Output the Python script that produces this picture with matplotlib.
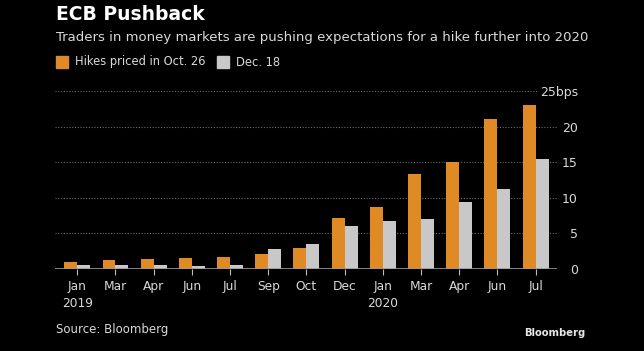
import matplotlib

matplotlib.use('Agg')

import matplotlib.pyplot as plt
import numpy as np

months = ['Jan\n2019', 'Mar', 'Apr', 'Jun', 'Jul', 'Sep', 'Oct', 'Dec',
          'Jan\n2020', 'Mar', 'Apr', 'Jun', 'Jul']
oct26 = [0.95, 1.25, 1.4, 1.55, 1.65, 2.15, 3.0, 7.2, 8.75, 13.4, 15.0, 21.0, 23.0]
dec18 = [0.55, 0.55, 0.55, 0.4, 0.55, 2.75, 3.45, 6.0, 6.7, 7.0, 9.45, 11.3, 15.5]
yticks = [0, 5, 10, 15, 20, 25]
ytick_labels = ['0', '5', '10', '15', '20', '25bps']

orange = '#e08a25'
grey = '#c8c8c8'
txt = '#d9d9d9'

fig = plt.figure(figsize=(6.44, 3.51), dpi=100, facecolor='black')
ax = fig.add_axes([55 / 644, 1 - 269 / 351, 502 / 644, 178 / 351])
ax.set_facecolor('black')

x = np.arange(len(months))
w = 0.34
ax.bar(x - w / 2, oct26, width=w, color=orange, zorder=3)
ax.bar(x + w / 2, dec18, width=w, color=grey, zorder=3)

ax.set_xlim(-0.584, 12.56)
ax.set_ylim(0, 25)

# gridlines (top one is cut short to leave room for the unit label)
for v in yticks[1:-1]:
    ax.axhline(v, color='#6a6a6a', linestyle=(0, (1, 1.5)), linewidth=0.8, zorder=1)
ax.axhline(25, xmax=0.96, color='#6a6a6a', linestyle=(0, (1, 1.5)), linewidth=0.8, zorder=1)
ax.axhline(0, color='#9a9a9a', linewidth=1.2, zorder=4)

for s in ax.spines.values():
    s.set_visible(False)

ax.yaxis.tick_right()
ax.set_yticks(yticks)
ax.set_yticklabels(ytick_labels, fontsize=9, color=txt, ha='right')
ax.tick_params(axis='y', length=0, pad=15)

ax.set_xticks(x)
ax.set_xticklabels(months, fontsize=8.8, color=txt, linespacing=1.35)
ax.tick_params(axis='x', length=4, color='#bbbbbb', pad=4)

fig.text(56 / 644, 1 - 14 / 351, 'ECB Pushback', fontsize=13.5, fontweight='bold',
         color='white', va='center', ha='left')
fig.text(56 / 644, 1 - 37 / 351, 'Traders in money markets are pushing expectations for a hike further into 2020',
         fontsize=9.5, color=txt, va='center', ha='left')

# legend
fig.patches.append(plt.Rectangle((56 / 644, 1 - 68 / 351), 12 / 644, 12 / 351,
                                 transform=fig.transFigure, color=orange))
fig.text(75 / 644, 1 - 62 / 351, 'Hikes priced in Oct. 26', fontsize=8.3, color=txt,
         va='center', ha='left')
fig.patches.append(plt.Rectangle((217 / 644, 1 - 68 / 351), 12 / 644, 12 / 351,
                                 transform=fig.transFigure, color=grey))
fig.text(236 / 644, 1 - 62 / 351, 'Dec. 18', fontsize=8.3, color=txt, va='center', ha='left')

fig.text(56 / 644, 1 - 329 / 351, 'Source: Bloomberg', fontsize=8.5, color=txt,
         va='center', ha='left')
fig.text(585 / 644, 1 - 333 / 351, 'Bloomberg', fontsize=7.2, fontweight='bold', color='#e6e6e6',
         va='center', ha='right')

fig.savefig('out.png', dpi=100, facecolor='black')
